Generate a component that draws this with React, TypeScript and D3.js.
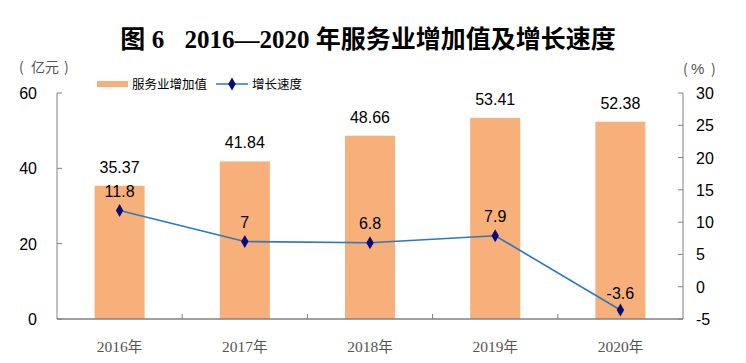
import * as d3 from "d3";
import { useEffect } from "react";

const YEARS = ["2016年", "2017年", "2018年", "2019年", "2020年"];
const VALUE_ADDED = [35.37, 41.84, 48.66, 53.41, 52.38];
const GROWTH = [11.8, 7, 6.8, 7.9, -3.6];
const LEFT_TICKS = [0, 20, 40, 60];
const RIGHT_TICKS = [-5, 0, 5, 10, 15, 20, 25, 30];

const W = 746;
const H = 363;
const BAR = "#F8B07A";
const LINE = "#2A78C0";
const MARK = "#0A0A78";
const NUM_FONT = "'Liberation Sans', Arial, sans-serif";
const CJK_FONT = "'Noto Sans CJK SC', sans-serif";
const SERIF = "'Liberation Serif', 'Times New Roman', serif";

export default function App() {
  useEffect(() => {
    document.body.style.margin = "0";
  }, []);

  const m = { left: 57, right: 683, top: 93, bottom: 319 };
  const x = d3.scaleBand<string>().domain(YEARS).range([m.left, m.right]).paddingInner(0).paddingOuter(0);
  const yL = d3.scaleLinear().domain([0, 60]).range([m.bottom, m.top]);
  const yR = d3.scaleLinear().domain([-5, 30]).range([m.bottom, m.top]);
  const bw = x.bandwidth() * 0.4;
  const cx = (d: string) => (x(d) ?? 0) + x.bandwidth() / 2;

  const line = d3
    .line<number>()
    .x((_, i) => cx(YEARS[i]))
    .y((d) => yR(d));

  const diamond = d3.symbol().type(d3.symbolDiamond).size(48)();

  return (
    <svg width={W} height={H} style={{ display: "block", background: "#fff" }}>
      <text
        x={368}
        y={48}
        textAnchor="middle"
        fontFamily={SERIF}
        fontWeight="bold"
        fontSize={25}
        fill="#000"
      >
        <tspan fontFamily="'Noto Sans CJK SC', serif">图</tspan>
        <tspan> 6 </tspan>
        <tspan dx={14}>2016—2020 </tspan>
        <tspan fontFamily="'Noto Sans CJK SC', serif">年服务业增加值及增长速度</tspan>
      </text>

      {/* unit labels */}
      <g fontFamily={CJK_FONT} fontSize={14} fill="#555">
        <text x={19} y={72}>(</text>
        <text x={31} y={72}>亿元</text>
        <text x={64} y={72}>)</text>
        <text x={683} y={74}>(</text>
        <text x={691} y={74} fontFamily={NUM_FONT} fontSize={15}>%</text>
        <text x={711} y={74}>)</text>
      </g>

      {/* legend */}
      <line x1={97} x2={128} y1={84} y2={84} stroke={BAR} strokeWidth={6} />
      <text x={132} y={88.5} fontFamily={CJK_FONT} fontSize={12.5} fill="#000">
        服务业增加值
      </text>
      <line x1={216} x2={248} y1={84} y2={84} stroke={LINE} strokeWidth={1.5} />
      <path d={diamond} transform="translate(232,84)" fill={MARK} />
      <text x={252} y={88.5} fontFamily={CJK_FONT} fontSize={12.5} fill="#000">
        增长速度
      </text>

      {/* bars */}
      {YEARS.map((yr, i) => (
        <g key={yr}>
          <rect
            x={cx(yr) - bw / 2}
            y={yL(VALUE_ADDED[i])}
            width={bw}
            height={yL(0) - yL(VALUE_ADDED[i])}
            fill={BAR}
          />
          <text
            x={cx(yr)}
            y={yL(VALUE_ADDED[i]) - 13}
            textAnchor="middle"
            fontFamily={NUM_FONT}
            fontSize={16}
            fill="#000"
          >
            {VALUE_ADDED[i].toFixed(2)}
          </text>
        </g>
      ))}

      {/* axes */}
      <line x1={m.left} x2={m.left} y1={m.top} y2={m.bottom} stroke="#808080" />
      <line x1={m.right} x2={m.right} y1={m.top} y2={m.bottom} stroke="#808080" />
      <line x1={m.left} x2={m.right} y1={m.bottom} y2={m.bottom} stroke="#808080" strokeWidth={1.5} />
      {LEFT_TICKS.map((t) => (
        <g key={"l" + t}>
          <line x1={m.left} x2={m.left + 5} y1={yL(t)} y2={yL(t)} stroke="#808080" />
          <text x={37} y={yL(t) + 6} textAnchor="end" fontFamily={NUM_FONT} fontSize={16} fill="#000">
            {t}
          </text>
        </g>
      ))}
      {RIGHT_TICKS.map((t) => (
        <g key={"r" + t}>
          <line x1={m.right - 5} x2={m.right} y1={yR(t)} y2={yR(t)} stroke="#808080" />
          <text x={696} y={yR(t) + 6} fontFamily={NUM_FONT} fontSize={16} fill="#000">
            {t}
          </text>
        </g>
      ))}
      {YEARS.slice(1).map((yr) => (
        <line key={"b" + yr} x1={x(yr)} x2={x(yr)} y1={m.bottom - 5} y2={m.bottom} stroke="#808080" />
      ))}
      {YEARS.map((yr) => (
        <text
          key={"x" + yr}
          x={cx(yr)}
          y={352}
          textAnchor="middle"
          fontFamily={SERIF}
          fontSize={15.5}
          fill="#555"
        >
          {yr.replace("年", "")}
          <tspan fontFamily="'Noto Sans CJK SC', serif" fontSize={14.5}>年</tspan>
        </text>
      ))}

      {/* growth line */}
      <path d={line(GROWTH) ?? ""} fill="none" stroke={LINE} strokeWidth={1.6} />
      {GROWTH.map((g, i) => (
        <g key={"g" + i}>
          <path d={diamond} transform={`translate(${cx(YEARS[i])},${yR(g)})`} fill={MARK} />
          <text
            x={cx(YEARS[i])}
            y={yR(g) - (i === 4 ? 11 : 14)}
            textAnchor="middle"
            fontFamily={NUM_FONT}
            fontSize={16}
            fill="#000"
          >
            {g}
          </text>
        </g>
      ))}
    </svg>
  );
}
